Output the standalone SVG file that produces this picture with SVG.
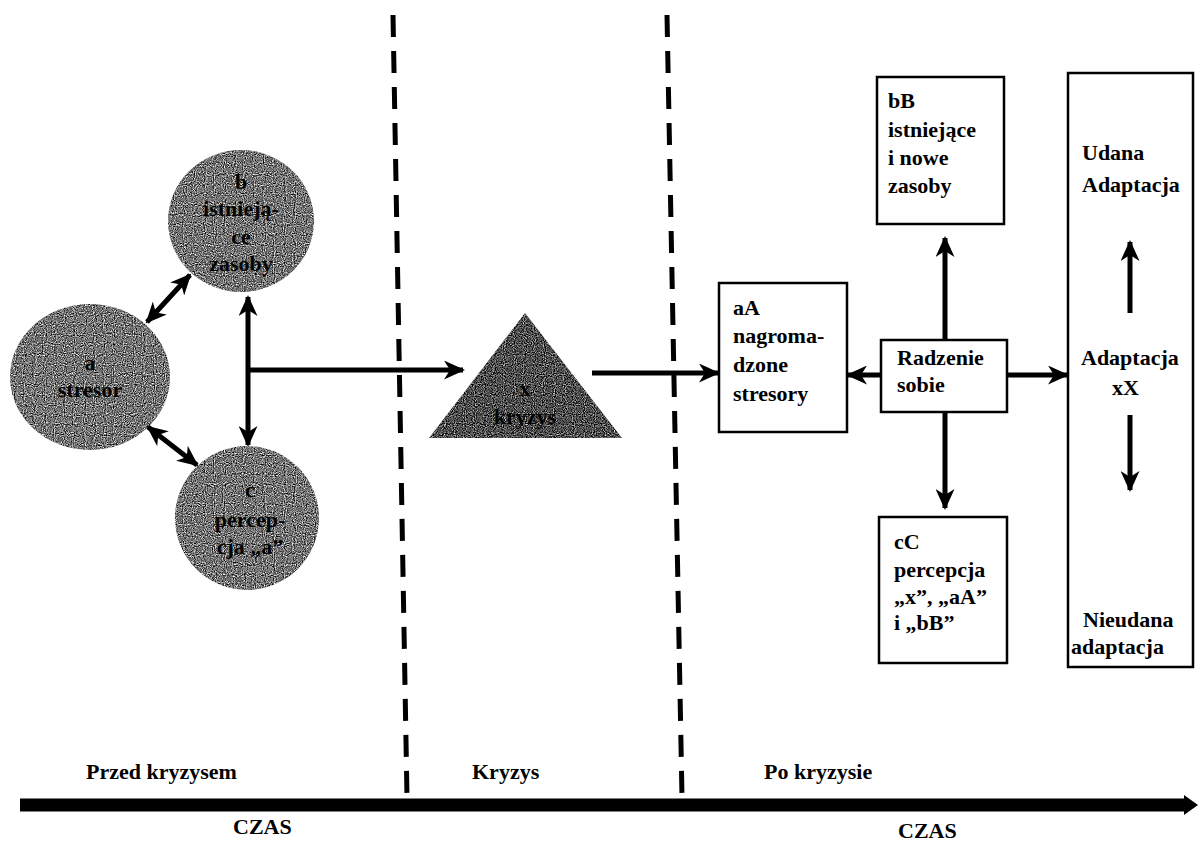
<svg xmlns="http://www.w3.org/2000/svg" width="1198" height="845" viewBox="0 0 1198 845" font-family="'Liberation Serif', 'DejaVu Serif', serif">
<style>
text{font-family:'Liberation Serif','DejaVu Serif',serif;font-weight:bold;font-size:22px;fill:#000}
.lbl{font-weight:normal;font-size:23px}
.box{fill:#fff;stroke:#000;stroke-width:2.5}
.ctext{fill:#050505;text-anchor:middle}
.conn{stroke:#000;stroke-width:5;fill:none}
.dash{stroke:#000;stroke-width:5;stroke-dasharray:22 14;fill:none}
</style>
<defs>
<marker id="ah" viewBox="0 0 21 19" refX="19" refY="9.5" markerWidth="21" markerHeight="19" markerUnits="userSpaceOnUse" orient="auto-start-reverse">
<path d="M0,0 L21,9.5 L0,19 L6,9.5 Z" fill="#000"/>
</marker>
<filter id="grain" x="-5%" y="-5%" width="110%" height="110%" color-interpolation-filters="sRGB">
<feTurbulence type="fractalNoise" baseFrequency="0.9" numOctaves="1" seed="3" result="n"/>
<feColorMatrix in="n" type="matrix" values="1.3 1.3 0 0 -0.85  1.3 1.3 0 0 -0.85  1.3 1.3 0 0 -0.85  0 0 0 0 1" result="g"/>
<feComposite in="g" in2="SourceGraphic" operator="in"/>
</filter>
<filter id="grain2" x="-5%" y="-5%" width="110%" height="110%" color-interpolation-filters="sRGB">
<feTurbulence type="fractalNoise" baseFrequency="0.9" numOctaves="1" seed="7" result="n"/>
<feColorMatrix in="n" type="matrix" values="1.3 1.3 0 0 -1.0  1.3 1.3 0 0 -1.0  1.3 1.3 0 0 -1.0  0 0 0 0 1" result="g"/>
<feComposite in="g" in2="SourceGraphic" operator="in"/>
</filter>
</defs>
<rect width="1198" height="845" fill="#fff"/>

<g id="dividers">
<line class="dash" x1="393" y1="15" x2="407" y2="797"/>
<line class="dash" x1="667" y1="15" x2="682" y2="797"/>
</g>

<g id="timeline">
<line x1="20" y1="805" x2="1186" y2="805" stroke="#000" stroke-width="13"/>
<polygon points="1184,795 1198,805 1184,815" fill="#000"/>
<text x="86" y="779">Przed  kryzysem</text>
<text x="472" y="779">Kryzys</text>
<text x="764" y="779">Po kryzysie</text>
<text x="233" y="834">CZAS</text>
<text x="898" y="838">CZAS</text>
</g>

<g id="node-b">
<ellipse cx="241" cy="221" rx="73" ry="71" fill="#000" filter="url(#grain)"/>
<text class="ctext" x="241" y="189">b</text>
<text class="ctext" x="241" y="216">istnieją-</text>
<text class="ctext" x="241" y="244">ce</text>
<text class="ctext" x="241" y="271">zasoby</text>
</g>

<g id="node-a">
<ellipse cx="90" cy="377" rx="80" ry="73" fill="#000" filter="url(#grain)"/>
<text class="ctext" x="90" y="370">a</text>
<text class="ctext" x="90" y="397">stresor</text>
</g>

<g id="node-c">
<ellipse cx="247" cy="518" rx="72" ry="72" fill="#000" filter="url(#grain)"/>
<text class="ctext" x="250" y="497">c</text>
<text class="ctext" x="250" y="527">percep-</text>
<text class="ctext" x="250" y="554">cja „a”</text>
</g>

<g id="node-x">
<polygon points="525,313 429,438 622,438" fill="#000" filter="url(#grain2)"/>
<text class="ctext" x="525" y="396">x</text>
<text class="ctext" x="525" y="424">kryzys</text>
</g>

<g id="node-aA">
<rect class="box" x="719" y="283" width="128" height="149"/>
<text x="733" y="315">aA</text>
<text x="733" y="343">nagroma-</text>
<text x="733" y="372">dzone</text>
<text x="733" y="401">stresory</text>
</g>

<g id="node-bB">
<rect class="box" x="877" y="77" width="127" height="147"/>
<text x="888" y="108">bB</text>
<text x="888" y="137">istniejące</text>
<text x="888" y="165">i nowe</text>
<text x="888" y="193">zasoby</text>
</g>

<g id="node-coping">
<rect class="box" x="881" y="340" width="126" height="72"/>
<text x="897" y="365">Radzenie</text>
<text x="897" y="392">sobie</text>
</g>

<g id="node-cC">
<rect class="box" x="879" y="517" width="128" height="146"/>
<text x="894" y="549">cC</text>
<text x="894" y="577">percepcja</text>
<text x="894" y="604">„x”, „aA”</text>
<text x="894" y="630">i „bB”</text>
</g>

<g id="node-xX">
<rect class="box" x="1068" y="73" width="125" height="594"/>
<text x="1082" y="160">Udana</text>
<text x="1082" y="192">Adaptacja</text>
<text x="1081" y="365">Adaptacja</text>
<text x="1112" y="395">xX</text>
<text x="1083" y="627">Nieudana</text>
<text x="1071" y="654">adaptacja</text>
</g>

<g id="connectors">
<line class="conn" x1="190" y1="275" x2="147" y2="322" marker-start="url(#ah)" marker-end="url(#ah)"/>
<line class="conn" x1="148" y1="427" x2="197" y2="465" marker-start="url(#ah)" marker-end="url(#ah)"/>
<line class="conn" x1="248" y1="297" x2="248" y2="445" marker-start="url(#ah)" marker-end="url(#ah)"/>
<line class="conn" x1="248" y1="370" x2="463" y2="370" marker-end="url(#ah)"/>
<line class="conn" x1="592" y1="373" x2="718" y2="373" marker-end="url(#ah)"/>
<line class="conn" x1="881" y1="375" x2="848" y2="375" marker-end="url(#ah)"/>
<line class="conn" x1="1007" y1="375" x2="1067" y2="375" marker-end="url(#ah)"/>
<line class="conn" x1="945" y1="340" x2="945" y2="238" marker-end="url(#ah)"/>
<line class="conn" x1="945" y1="412" x2="945" y2="508" marker-end="url(#ah)"/>
<line class="conn" x1="1130" y1="313" x2="1130" y2="242" marker-end="url(#ah)"/>
<line class="conn" x1="1130" y1="415" x2="1130" y2="490" marker-end="url(#ah)"/>
</g>
</svg>
